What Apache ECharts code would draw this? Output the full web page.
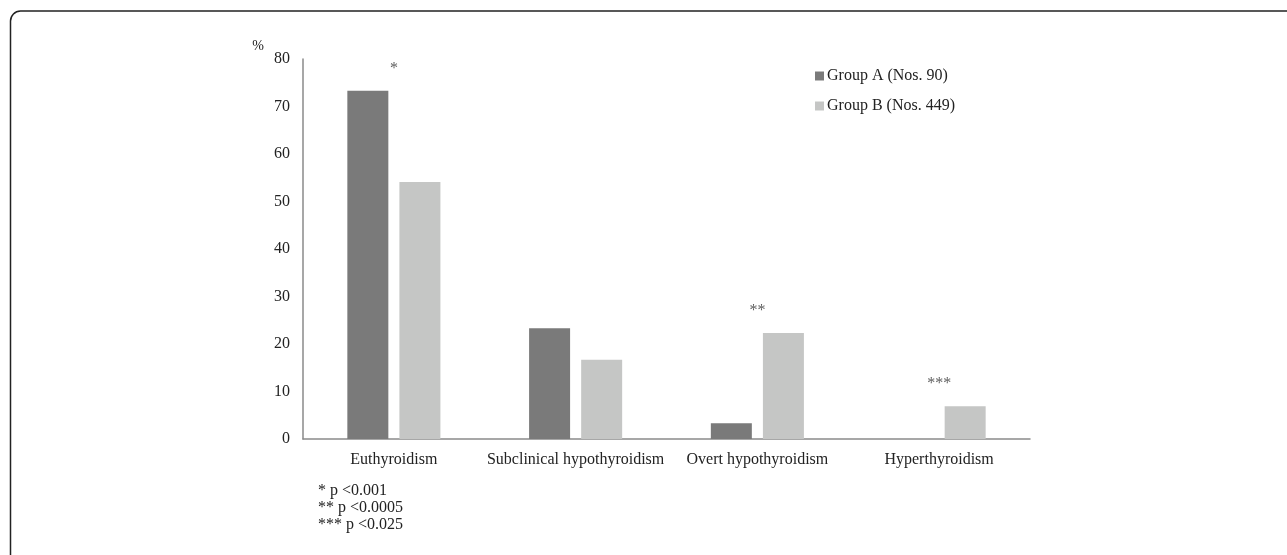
<!DOCTYPE html>
<html>
<head>
<meta charset="utf-8">
<script src="https://cdn.jsdelivr.net/npm/echarts@6/dist/echarts.min.js"></script>
<style>
html,body{margin:0;padding:0;background:#fff;}
#chart{width:1287px;height:555px;}
</style>
</head>
<body>
<div id="chart"></div>
<script>
const categories = ['Euthyroidism', 'Subclinical hypothyroidism', 'Overt hypothyroidism', 'Hyperthyroidism'];
const groupA = [73.3, 23.3, 3.3, 0];
const groupB = [54.1, 16.7, 22.3, 6.9];
const significance = ['*', '', '**', '***'];
const seriesNames = ['Group A (Nos. 90)', 'Group B (Nos. 449)'];
const footnotes = ['* p <0.001', '** p <0.0005', '*** p <0.025'];

const FONT = '"Liberation Serif", "DejaVu Serif", serif';
const chart = echarts.init(document.getElementById('chart'));

const sigData = categories.map((c, i) => ({
  value: [c, Math.max(groupA[i], groupB[i])],
  label: { formatter: significance[i] }
}));

chart.setOption({
  animation: false,
  backgroundColor: '#fff',
  textStyle: { fontFamily: FONT },
  grid: { left: 303, right: 257, top: 59, bottom: 116 },
  legend: {
    orient: 'vertical',
    left: 810, top: 63,
    itemWidth: 9, itemHeight: 9,
    itemGap: 14,
    icon: 'rect',
    data: seriesNames,
    textStyle: { fontFamily: FONT, fontSize: 16, color: '#222', padding: [0, 0, 0, -2] }
  },
  xAxis: {
    type: 'category',
    data: categories,
    axisLine: { lineStyle: { color: '#8a8a8a', width: 1.5 } },
    axisTick: { show: false },
    axisLabel: { interval: 0, fontFamily: FONT, fontSize: 16, color: '#222', margin: 13 }
  },
  yAxis: {
    type: 'value',
    min: 0, max: 80, interval: 10,
    name: '%',
    nameLocation: 'end',
    nameGap: 6,
    nameTextStyle: { fontFamily: FONT, fontSize: 14, color: '#222', align: 'right', padding: [0, 39, 0, 0] },
    axisLine: { show: true, lineStyle: { color: '#8a8a8a', width: 1.5 } },
    axisTick: { show: false },
    splitLine: { show: false },
    axisLabel: { fontFamily: FONT, fontSize: 16, color: '#222', margin: 13 }
  },
  series: [
    {
      name: seriesNames[0], type: 'bar', data: groupA,
      barWidth: 41, barGap: '27%',
      itemStyle: { color: '#7a7a7a' }
    },
    {
      name: seriesNames[1], type: 'bar', data: groupB,
      barWidth: 41,
      itemStyle: { color: '#c5c6c5' }
    },
    {
      name: 'sig', type: 'scatter', data: sigData,
      symbolSize: 0, silent: true,
      label: { show: true, position: 'top', distance: 14, fontFamily: FONT, fontSize: 16, color: '#333' },
      z: 5
    }
  ],
  graphic: [
    {
      type: 'rect',
      shape: { x: 10.5, y: 11, width: 1400, height: 700, r: 10 },
      style: { fill: 'none', stroke: '#222', lineWidth: 1.5 },
      silent: true
    },
    {
      type: 'group', left: 318, top: 483,
      children: footnotes.map((t, i) => ({
        type: 'text', left: 0, top: i * 17,
        style: { text: t, font: '16px ' + FONT, fill: '#222' }
      }))
    }
  ]
});
</script>
</body>
</html>
